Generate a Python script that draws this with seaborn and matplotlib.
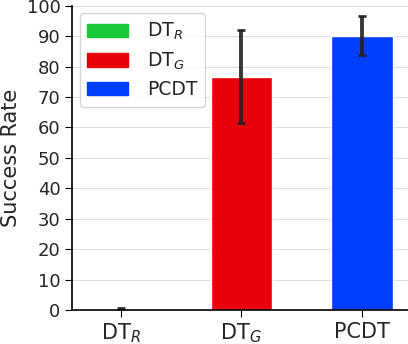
import matplotlib
matplotlib.use('Agg')
import matplotlib.pyplot as plt
import pandas as pd
import seaborn as sns

methods = [r'DT$_R$', r'DT$_G$', 'PCDT']
success = [0.4, 76.7, 90.2]
errors = [0.3, 15.2, 6.3]
colors = ['#1ac938', '#e8000b', '#023eff']

df = pd.DataFrame({'method': methods, 'success': success})

sns.set_style('whitegrid')
plt.rcParams['font.family'] = ['DejaVu Sans']
fig = plt.figure(figsize=(4.08, 3.44), dpi=100)
ax = fig.add_axes([0.177, 0.099, 0.823, 0.884])
sns.barplot(data=df, x='method', y='success', hue='method', palette=colors,
            width=0.51, legend=False, ax=ax, saturation=1)
ax.errorbar(range(len(methods)), success, yerr=errors, fmt='none',
            ecolor='#222222', elinewidth=2.8, capsize=3, capthick=2, alpha=0.9)

handles = [plt.Rectangle((0, 0), 1, 1, color=c) for c in colors]
ax.legend(handles, methods, loc='upper left', fontsize=13.5, frameon=True,
          handlelength=2.2, handletextpad=1.0, borderaxespad=0.4,
          labelspacing=0.45)

ax.set_xlim(-0.4, 2.38)
ax.set_ylim(0, 100)
ax.set_yticks(range(0, 101, 10))
ax.set_xlabel('')
ax.set_ylabel('Success Rate', fontsize=15)
ax.tick_params(axis='y', labelsize=13)
ax.tick_params(axis='x', labelsize=15)
ax.tick_params(axis='both', length=5, color='black', left=True, bottom=True)
ax.grid(axis='x', visible=False)
ax.grid(axis='y', color='#e0e0e0')
for s in ['top', 'right']:
    ax.spines[s].set_visible(False)
for s in ['left', 'bottom']:
    ax.spines[s].set_color('black')
    ax.spines[s].set_linewidth(1.2)

fig.savefig('out.png', dpi=100)
